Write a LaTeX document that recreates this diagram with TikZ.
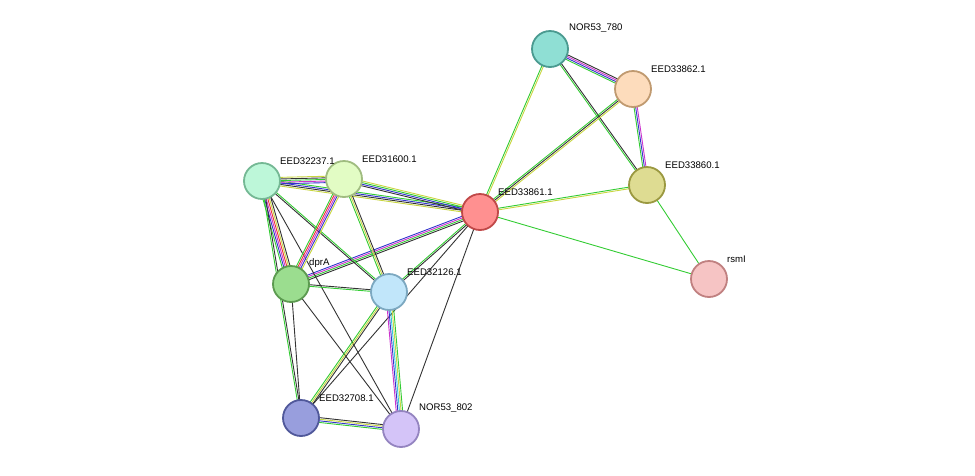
\documentclass[tikz,border=0pt]{standalone}
\usepackage{fontspec}
\setmainfont{Liberation Sans}
\usetikzlibrary{calc}
\definecolor{G}{HTML}{33CC33}\definecolor{Y}{HTML}{C8D640}\definecolor{K}{HTML}{333333}
\definecolor{B}{HTML}{3333CC}\definecolor{P}{HTML}{CC33CC}\definecolor{R}{HTML}{EE3333}\definecolor{C}{HTML}{33CCDD}
\definecolor{f780}{HTML}{8FDFD4}\definecolor{d780}{HTML}{4A9A90}
\definecolor{f862}{HTML}{FDDCBC}\definecolor{d862}{HTML}{C09A70}
\definecolor{f860}{HTML}{DEDC92}\definecolor{d860}{HTML}{9A9840}
\definecolor{f861}{HTML}{FF9090}\definecolor{d861}{HTML}{C04848}
\definecolor{frsm}{HTML}{F6C4C4}\definecolor{drsm}{HTML}{C08080}
\definecolor{f237}{HTML}{BDF7D9}\definecolor{d237}{HTML}{74B894}
\definecolor{f600}{HTML}{E2FCC4}\definecolor{d600}{HTML}{A0BC80}
\definecolor{fdpr}{HTML}{9BDD8F}\definecolor{ddpr}{HTML}{5C9A50}
\definecolor{f126}{HTML}{C1E6FA}\definecolor{d126}{HTML}{7CA8C0}
\definecolor{f708}{HTML}{989EDD}\definecolor{d708}{HTML}{50589A}
\definecolor{f802}{HTML}{D4C4F8}\definecolor{d802}{HTML}{9484C0}
\newcommand\medge[3]{%
  \foreach \c [count=\i] in {#3} {\xdef\nn{\i}}%
  \foreach \c [count=\i] in {#3} {%
    \pgfmathsetmacro\off{(\i-(\nn+1)/2)*1.6}%
    \draw[\c, line width=0.9pt] ($(#1)!\off pt!90:(#2)$) -- ($(#2)!\off pt!-90:(#1)$);}%
}
\begin{document}
\begin{tikzpicture}[x=1pt,y=-1pt,
  nd/.style={circle, minimum size=36pt, inner sep=0pt, line width=1.8pt},
  lb/.style={font=\fontsize{9.6}{11}\selectfont, anchor=south west, inner sep=0pt}]
\useasboundingbox (0,0) rectangle (975,475);
\coordinate (n780) at (550,49);
\coordinate (n862) at (633,89);
\coordinate (n860) at (647,185);
\coordinate (n861) at (480,212);
\coordinate (rsm) at (709,279);
\coordinate (n237) at (262,181);
\coordinate (n600) at (344,179);
\coordinate (dpr) at (291,284);
\coordinate (n126) at (389,292);
\coordinate (n708) at (301,418);
\coordinate (n802) at (401,429);
\medge{n780}{n862}{G,B,P,K}
\medge{n780}{n860}{G,K}
\medge{n780}{n861}{G,Y}
\medge{n862}{n860}{G,B,P}
\medge{n862}{n861}{G,K,Y}
\medge{n860}{n861}{G,Y}
\medge{n860}{rsm}{G}
\medge{n861}{rsm}{G}
\medge{n861}{n237}{G,B,K,Y}
\medge{n861}{n600}{Y,G,B,K}
\medge{n861}{dpr}{B,P,G,K}
\medge{n861}{n126}{G,K}
\medge{n861}{n708}{K}
\medge{n861}{n802}{K}
\medge{n237}{n600}{B,P,G,K,Y}
\medge{n237}{dpr}{G,B,P,R,Y,K}
\medge{n237}{n126}{K,G}
\medge{n237}{n708}{G,K}
\medge{n237}{n802}{K}
\medge{n600}{dpr}{G,R,P,B,Y}
\medge{n600}{n126}{G,Y,K}
\medge{dpr}{n126}{G,K}
\medge{dpr}{n708}{K}
\medge{dpr}{n802}{K}
\medge{n126}{n708}{G,Y,K}
\medge{n126}{n802}{P,B,C,Y,G}
\medge{n708}{n802}{G,B,Y,K}
\node[nd, fill=f780, draw=d780] (a780) at (n780) {};
\node[nd, fill=f862, draw=d862] (a862) at (n862) {};
\node[nd, fill=f860, draw=d860] (a860) at (n860) {};
\node[nd, fill=f861, draw=d861] (a861) at (n861) {};
\node[nd, fill=frsm, draw=drsm] (arsm) at (rsm) {};
\node[nd, fill=f237, draw=d237] (a237) at (n237) {};
\node[nd, fill=f600, draw=d600] (a600) at (n600) {};
\node[nd, fill=fdpr, draw=ddpr] (adpr) at (dpr) {};
\node[nd, fill=f126, draw=d126] (a126) at (n126) {};
\node[nd, fill=f708, draw=d708] (a708) at (n708) {};
\node[nd, fill=f802, draw=d802] (a802) at (n802) {};
\node[lb] at (569,33) {NOR53\_780};
\node[lb] at (651,73) {EED33862.1};
\node[lb] at (665,169) {EED33860.1};
\node[lb] at (498,196) {EED33861.1};
\node[lb] at (727,263) {rsmI};
\node[lb] at (280,165) {EED32237.1};
\node[lb] at (362,163) {EED31600.1};
\node[lb] at (309,268) {dprA};
\node[lb] at (407,276) {EED32126.1};
\node[lb] at (319,402) {EED32708.1};
\node[lb] at (419,413) {NOR53\_802};
\end{tikzpicture}
\end{document}
